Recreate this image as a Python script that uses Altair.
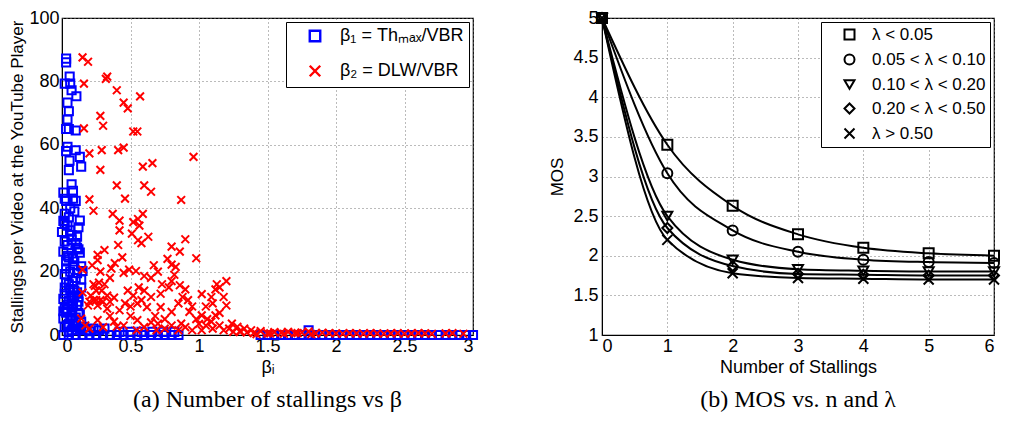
import altair as alt
import pandas as pd

# ---------------- Left panel data ----------------
blue_beta = [
    0.03, 0.03, 0.02, 0.056, 0.06, 0.07, 0.105, 0.04, 0.05, 0.04, 0.03, 0.05, 0.10,
    0.04, 0.10, 0.03, 0.13, 0.055, 0.14, 0.05, 0.07, 0.08, 0.02, 0.08,
    0.01, 0.03, 0.10, 0.02, 0.05, 0.13, 0.00, 0.06, 0.11, 0.04, 0.01, 0.14, 0.09,
    0.03, 0.15, 0.02, 0.075, 0.02, 0.14, 0.01, 0.05, 0.11, 0.02, 0.075, 0.01, 0.14,
    0.04, 0.16, 0.23, 0.31, 0.01,
    0.06, 0.09, 0.12, 0.02, 0.07, 0.11, 0.04, 0.08, 0.13, 0.03, 0.06, 0.10, 0.12,
    0.05, 0.09, 0.02, 0.07, 0.11, 0.04, 0.08, 0.12, 0.03, 0.06, 0.10, 0.05, 0.09,
    0.13, 0.07, 0.11, 0.18, 0.20, 0.27,
    0.01, 0.04, 0.07, 0.10, 0.12, 0.02, 0.05, 0.08, 0.11, 0.14, 0.03, 0.06, 0.09,
    0.12, 0.01, 0.04, 0.07, 0.10, 0.13, 0.02, 0.05, 0.08,
    0.05, 0.10, 0.15, 0.20, 0.25, 0.30, 0.35, 0.40, 0.45, 0.50, 0.55, 0.60, 0.65,
    0.70, 0.75, 0.80, 0.85, 0.42, 0.50, 0.58, 0.66, 0.74, 0.82,
    1.45, 1.50, 1.55, 1.60, 1.65, 1.70, 1.75, 1.80, 1.80,
    1.85, 1.90, 1.95, 2.00, 2.05, 2.10, 2.15, 2.20, 2.25, 2.30, 2.35, 2.40, 2.45,
    2.50, 2.55, 2.60, 2.65, 2.70, 2.75, 2.80, 2.85, 2.90, 2.95, 3.00,
]
blue_stall = [
    87.2, 86.0, 79.3, 81.5, 79.3, 77.2, 75.3, 73.3, 70.6, 68.0, 65.0, 65.0, 64.5,
    59.4, 58.3, 58.0, 56.2, 55.0, 53.1, 52.0, 47.5, 45.5, 43.0, 43.0,
    44.9, 42.3, 42.3, 38.2, 37.1, 36.1, 32.5, 33.0, 31.0, 28.4, 26.3, 21.7, 23.2,
    23.2, 20.2, 19.2, 17.0, 15.0, 15.0, 11.4, 10.8, 9.3, 8.3, 6.2, 5.2, 4.2,
    3.1, 2.6, 2.0, 2.0, 0.0,
    40.0, 39.0, 34.0, 35.0, 30.0, 27.5, 25.0, 24.0, 26.0, 21.0, 20.0, 18.0, 12.0,
    16.0, 14.0, 13.0, 12.0, 13.5, 9.5, 10.0, 7.0, 7.0, 5.0, 5.5, 3.5, 3.0,
    2.0, 1.5, 1.5, 1.5, 1.2, 1.5,
    36.0, 34.5, 31.5, 29.0, 27.0, 29.5, 24.5, 22.0, 19.5, 17.5, 16.5, 14.5, 12.5,
    10.5, 7.5, 8.0, 9.0, 4.5, 6.5, 2.5, 1.0, 3.5,
    0.0, 0.0, 0.0, 0.0, 0.0, 0.0, 0.0, 0.0, 0.0, 0.0, 0.0, 0.0, 0.0,
    0.0, 0.0, 0.0, 0.0, 1.0, 1.0, 1.0, 1.0, 1.0, 1.0,
    0.0, 0.0, 0.0, 0.0, 0.0, 0.0, 0.0, 0.0, 1.5,
    0.0, 0.0, 0.0, 0.0, 0.0, 0.0, 0.0, 0.0, 0.0, 0.0, 0.0, 0.0, 0.0,
    0.0, 0.0, 0.0, 0.0, 0.0, 0.0, 0.0, 0.0, 0.0, 0.0, 0.0,
]

red_beta = [
    0.15, 0.19, 0.16, 0.32, 0.33, 0.40, 0.45, 0.48, 0.57, 0.28, 0.30, 0.16, 0.52, 0.55,
    0.20, 0.29, 0.41, 0.45, 0.96, 0.28, 0.59, 0.66, 0.40, 0.60, 0.65, 0.20, 0.46, 0.87,
    0.23, 0.37, 0.42, 0.555, 0.59, 0.52, 0.565, 0.42, 0.51, 0.555, 0.63, 0.58, 0.90,
    0.41, 0.31, 0.26, 0.80, 0.86, 0.98, 0.80, 0.83, 0.385, 0.49, 0.54, 0.60, 0.65,
    0.45, 0.26, 0.15, 1.20, 1.13, 1.15, 1.12, 0.80, 0.86, 0.78, 0.24, 0.27, 0.31,
    0.56, 0.60, 1.02, 0.90, 0.15, 0.21, 0.33, 0.38, 0.52, 1.09, 1.20, 0.95, 0.19,
    0.26, 0.33, 0.42, 0.62, 0.72, 0.80, 0.93, 1.02, 1.12, 0.14, 0.26, 0.38, 0.55,
    0.70, 0.87, 1.09, 1.24, 0.40, 0.545, 0.69, 1.02, 1.28, 1.38,
    0.22, 0.28, 0.35, 0.20, 0.23, 0.25, 0.28, 0.30, 0.35, 0.23, 0.25, 0.29, 0.50,
    0.55, 0.58, 0.65, 0.68, 0.75, 0.85, 0.88, 0.92, 0.98, 1.05, 1.10, 1.15, 1.18,
    1.22, 1.30, 1.33, 0.45, 0.50, 0.60, 0.65, 0.75, 0.80, 0.85, 0.90, 0.95, 0.17,
    0.20, 0.30, 0.35, 0.46, 0.48, 0.70, 0.72, 0.77, 0.82, 1.05, 1.10, 1.15, 1.18,
    1.00, 1.06, 1.25, 0.67, 0.73, 0.36, 0.44,
    1.30, 1.35, 1.40, 1.45, 1.50, 1.55, 1.60, 1.65, 1.70, 1.75, 1.80, 1.85, 1.90,
    1.95, 2.00, 2.05, 2.10, 2.15, 2.20, 2.25, 2.30, 2.35, 2.40, 2.45, 2.50, 2.55,
    2.60, 2.65, 2.70, 2.80, 2.85, 2.93, 1.42, 1.52, 1.62, 1.72, 1.82,
]
red_stall = [
    87.6, 86.2, 79.3, 80.8, 81.5, 77.2, 73.3, 71.5, 75.3, 69.1, 66.0, 65.2, 64.2, 64.2,
    57.3, 58.3, 58.3, 59.1, 56.2, 52.1, 53.1, 54.2, 47.2, 47.2, 45.2, 42.8, 43.0, 42.6,
    39.2, 38.2, 36.1, 36.6, 38.2, 35.6, 34.5, 33.0, 32.0, 29.9, 31.0, 29.0, 30.2,
    28.4, 26.8, 25.3, 27.9, 26.3, 24.2, 22.2, 21.5, 22.7, 20.6, 20.2, 18.6, 18.0,
    19.6, 23.6, 20.6, 17.0, 16.0, 15.0, 14.4, 17.0, 15.7, 15.0, 15.5, 16.5, 16.0,
    15.0, 14.0, 12.9, 14.4, 13.4, 12.4, 12.4, 11.8, 12.4, 12.0, 9.3, 9.0, 9.3,
    9.3, 8.3, 7.8, 8.8, 8.8, 7.3, 7.3, 6.2, 6.2, 5.2, 4.7, 4.2, 4.7,
    3.6, 3.6, 4.2, 3.6, 2.6, 1.5, 1.5, 1.5, 2.6, 1.5,
    22.0, 20.0, 18.0, 10.5, 11.0, 11.0, 11.0, 10.5, 10.5, 16.0, 14.0, 14.0, 9.0,
    10.0, 11.0, 12.0, 6.0, 5.0, 10.0, 12.0, 11.0, 5.0, 3.0, 2.0, 3.0, 1.5,
    2.0, 1.2, 2.0, 3.0, 6.0, 2.5, 4.0, 2.0, 3.0, 1.5, 2.5, 1.5, 3.0,
    2.0, 2.5, 6.0, 10.0, 14.0, 20.0, 13.0, 24.0, 19.0, 9.0, 10.0, 7.0, 12.0,
    3.5, 5.0, 1.0, 22.0, 16.0, 21.0, 24.5,
    1.0, 0.8, 0.6, 1.2, 0.5, 0.9, 0.7, 1.0, 0.6, 0.8, 1.1, 0.5, 0.7,
    0.6, 0.5, 0.4, 0.6, 0.5, 0.4, 0.6, 0.5, 0.4, 0.5, 0.6, 0.4, 0.5,
    0.6, 0.5, 0.4, 0.5, 0.6, 0.4, 0.3, 0.5, 0.4, 0.6, 0.3,
]

label_b1 = "β₁ = Thₘₐₓ/VBR"
label_b2 = "β₂ = DLW/VBR"
X_PATH = "M-1,-1L1,1M-1,1L1,-1"

left_df = pd.concat([
    pd.DataFrame({"beta": blue_beta, "stall": blue_stall, "series": label_b1}),
    pd.DataFrame({"beta": red_beta, "stall": red_stall, "series": label_b2}),
], ignore_index=True)
left_df["order"] = (left_df["series"] == label_b2).astype(int)

# ---------------- Right panel data ----------------
n_stall = [0, 1, 2, 3, 4, 5, 6]
mos_ticks = [1, 1.5, 2, 2.5, 3, 3.5, 4, 4.5, 5]
lam_labels = ["λ < 0.05", "0.05 < λ < 0.10", "0.10 < λ < 0.20", "0.20 < λ < 0.50", "λ > 0.50"]
mos_sq = [5.0, 3.40, 2.63, 2.27, 2.10, 2.03, 2.00]
mos_ci = [5.0, 3.04, 2.32, 2.05, 1.95, 1.92, 1.91]
mos_tr = [5.0, 2.50, 1.95, 1.83, 1.81, 1.80, 1.80]
mos_di = [5.0, 2.35, 1.87, 1.77, 1.76, 1.75, 1.75]
mos_x = [5.0, 2.20, 1.78, 1.72, 1.71, 1.70, 1.70]

rows = []
for lab, vals in zip(lam_labels, [mos_sq, mos_ci, mos_tr, mos_di, mos_x]):
    for n, v in zip(n_stall, vals):
        rows.append({"n": n, "mos": v, "series": lab})
right_df = pd.DataFrame(rows)

FONT = "Liberation Sans"
grid_kw = dict(grid=True, gridDash=[1, 3], gridColor="#777777", gridOpacity=1, gridWidth=1,
               domainColor="black", ticks=False, labelFont=FONT, labelFontSize=18,
               labelColor="black", titleFont=FONT, titleFontWeight="normal",
               titleColor="black", labelOverlap=False, labelBound=False)

PLOT_H = 317

left_points = alt.Chart(left_df).mark_point(filled=False, strokeWidth=2, opacity=1).encode(
    x=alt.X("beta:Q", scale=alt.Scale(domain=[0, 3], nice=False),
            axis=alt.Axis(values=[0, 0.5, 1, 1.5, 2, 2.5, 3], labelExpr="toString(datum.value)",
                          title="βᵢ", titlePadding=3, titleFontSize=18, labelPadding=2, **grid_kw)),
    y=alt.Y("stall:Q", scale=alt.Scale(domain=[0, 100], nice=False),
            axis=alt.Axis(values=[0, 20, 40, 60, 80, 100], title="Stallings per Video at the YouTube Player",
                          titlePadding=2, titleFontSize=17, labelPadding=3, **grid_kw)),
    color=alt.Color("series:N", scale=alt.Scale(domain=[label_b1, label_b2], range=["#0000ff", "#ff0000"]),
                    legend=alt.Legend(title=None, orient="top-right", offset=4, strokeColor="black",
                                      fillColor="white", padding=5, labelFont=FONT, labelFontSize=18,
                                      labelColor="black", rowPadding=13, symbolStrokeWidth=2.4,
                                      symbolSize=110, labelOffset=16, symbolOffset=15)),
    shape=alt.Shape("series:N", scale=alt.Scale(domain=[label_b1, label_b2], range=["square", X_PATH]),
                    legend=alt.Legend(title=None)),
    size=alt.Size("series:N", scale=alt.Scale(domain=[label_b1, label_b2], range=[66, 60]), legend=None),
    order=alt.Order("order:Q"),
).properties(
    width=411, height=PLOT_H,
    title=alt.TitleParams("(a) Number of stallings vs β", orient="bottom", anchor="middle",
                          font="Liberation Serif", fontSize=24, fontWeight="normal", color="black", offset=12),
)

shape_range = ["square", "circle", "triangle-down", "diamond", X_PATH]
x_right = alt.X("n:Q", scale=alt.Scale(domain=[0, 6], nice=False),
                axis=alt.Axis(values=n_stall, labelExpr="toString(datum.value)", title="Number of Stallings",
                              titlePadding=3, titleFontSize=18, labelPadding=2, **grid_kw))
y_right = alt.Y("mos:Q", scale=alt.Scale(domain=[1, 5], nice=False),
                axis=alt.Axis(values=mos_ticks, labelExpr="toString(datum.value)",
                              title="MOS", titlePadding=6, titleFontSize=17, labelPadding=4, **grid_kw))

lines = alt.Chart(right_df).mark_line(color="black", strokeWidth=2, interpolate="monotone").encode(
    x=x_right, y=y_right, detail="series:N",
)
pts = alt.Chart(right_df).mark_point(filled=False, color="black", strokeWidth=2, size=100, opacity=1).encode(
    x=x_right, y=y_right,
    shape=alt.Shape("series:N", scale=alt.Scale(domain=lam_labels, range=shape_range),
                    legend=alt.Legend(title=None, orient="top-right", offset=4, strokeColor="black",
                                      fillColor="white", padding=4, labelFont=FONT, labelFontSize=17,
                                      labelColor="black", rowPadding=6, symbolStrokeWidth=2,
                                      symbolSize=100, symbolStrokeColor="black", labelOffset=14,
                                      symbolOffset=16)),
)
right = alt.layer(lines, pts).properties(
    width=392, height=PLOT_H,
    title=alt.TitleParams("(b) MOS vs. n and λ", orient="bottom", anchor="middle",
                          font="Liberation Serif", fontSize=24, fontWeight="normal", color="black", offset=12),
)

chart = alt.hconcat(left_points, right, spacing=66).configure_view(
    stroke="black", strokeWidth=1.2
).resolve_scale(color="independent", shape="independent").properties(
    padding={"left": 0, "top": 0, "right": 0, "bottom": 0}
)

chart.save("out.html", embed_options={"renderer": "svg", "actions": False})
